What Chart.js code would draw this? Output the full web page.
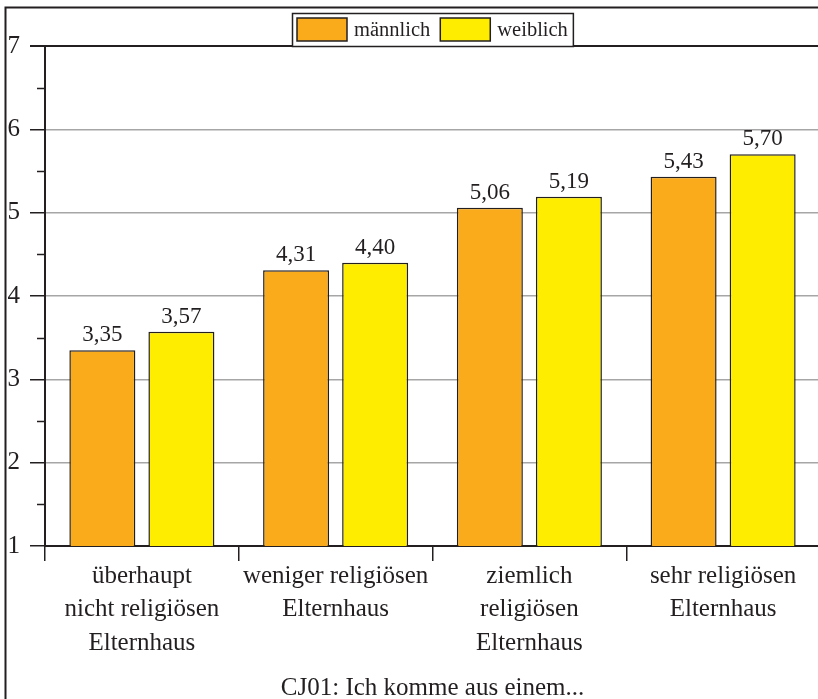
<!DOCTYPE html>
<html>
<head>
<meta charset="utf-8">
<script src="https://cdn.jsdelivr.net/npm/chart.js@4.4.0/dist/chart.umd.min.js"></script>
<style>
  html, body { margin: 0; padding: 0; overflow: hidden; background: #fff; }
  #wrap { width: 821px; height: 712px; }
</style>
</head>
<body>
<div id="wrap"><canvas id="chart" width="821" height="712"></canvas></div>
<script>
// Data
const categories = [
    ['überhaupt', 'nicht religiösen', 'Elternhaus'],
    ['weniger religiösen', 'Elternhaus'],
    ['ziemlich', 'religiösen', 'Elternhaus'],
    ['sehr religiösen', 'Elternhaus']
];
const seriesNames = ['männlich', 'weiblich'];
const maleValues = [3.35, 4.31, 5.06, 5.43];
const femaleValues = [3.57, 4.40, 5.19, 5.70];
const yTicks = [1, 2, 3, 4, 5, 6, 7];
const axisTitle = 'CJ01: Ich komme aus einem...';

const FONT = "'Liberation Serif', 'DejaVu Serif', serif";
const INK = '#231f20';
const colors = ['#f9ab1c', '#ffed00'];

// outer frame (left + top line, picture is cut on the other sides)
const framePlugin = {
    id: 'frame',
    beforeDraw(chart) {
        const c = chart.ctx;
        c.save();
        c.fillStyle = '#fff';
        c.fillRect(0, 0, chart.width, chart.height);
        c.strokeStyle = INK;
        c.lineWidth = 2;
        c.beginPath();
        c.moveTo(5.5, chart.height);
        c.lineTo(5.5, 7.5);
        c.lineTo(chart.width, 7.5);
        c.stroke();
        c.restore();
    }
};

// short ticks halfway between the labelled ones
const minorTicks = {
    id: 'minorTicks',
    afterDraw(chart) {
        const y = chart.scales.y;
        const c = chart.ctx;
        c.save();
        c.strokeStyle = INK;
        c.lineWidth = 1.5;
        for (let i = 0; i < yTicks.length - 1; i++) {
            const py = Math.round(y.getPixelForValue((yTicks[i] + yTicks[i + 1]) / 2)) + 0.5;
            c.beginPath();
            c.moveTo(chart.chartArea.left - 8, py);
            c.lineTo(chart.chartArea.left, py);
            c.stroke();
        }
        c.restore();
    }
};

// value labels above the bars
const valueLabels = {
    id: 'valueLabels',
    afterDatasetsDraw(chart) {
        const c = chart.ctx;
        c.save();
        c.font = '23px ' + FONT;
        c.fillStyle = INK;
        c.textAlign = 'center';
        c.textBaseline = 'alphabetic';
        chart.data.datasets.forEach((ds, di) => {
            chart.getDatasetMeta(di).data.forEach((bar, i) => {
                c.fillText(ds.data[i].toFixed(2).replace('.', ','), bar.x, bar.y - 9);
            });
        });
        c.restore();
    }
};

// boxed legend sitting on top of the plot
const boxLegend = {
    id: 'boxLegend',
    afterDraw(chart) {
        const c = chart.ctx;
        const area = chart.chartArea;
        c.save();
        c.font = '20.5px ' + FONT;
        const sw = 50, sh = 23, gapText = 7, gapItem = 10, pad = 5;
        const widths = chart.data.datasets.map(ds => sw + gapText + c.measureText(ds.label).width);
        const total = widths.reduce((a, b) => a + b, 0) + gapItem * (widths.length - 1) + pad * 2;
        const boxTop = 13, boxBottom = area.top;
        let x = Math.round((area.left + area.right) / 2 - total / 2);
        c.fillStyle = '#fff';
        c.fillRect(x, boxTop, total, boxBottom - boxTop);
        c.strokeStyle = INK;
        c.lineWidth = 1.5;
        c.strokeRect(x + 0.5, boxTop + 0.5, total, boxBottom - boxTop);
        const cy = (boxTop + boxBottom) / 2;
        x += pad;
        chart.data.datasets.forEach((ds, i) => {
            c.fillStyle = ds.backgroundColor;
            c.fillRect(x, cy - sh / 2, sw, sh);
            c.strokeStyle = INK;
            c.strokeRect(x, cy - sh / 2, sw, sh);
            c.fillStyle = INK;
            c.textAlign = 'left';
            c.textBaseline = 'middle';
            c.fillText(ds.label, x + sw + gapText, cy + 1);
            x += widths[i] + gapItem;
        });
        c.restore();
    }
};

const ctx = document.getElementById('chart').getContext('2d');
const chart = new Chart(ctx, {
    type: 'bar',
    data: {
        labels: categories,
        datasets: [
            { label: seriesNames[0], data: maleValues, backgroundColor: colors[0] },
            { label: seriesNames[1], data: femaleValues, backgroundColor: colors[1] }
        ]
    },
    options: {
        responsive: false,
        animation: false,
        devicePixelRatio: 1,
        layout: { padding: { top: 46, left: 0, right: 1, bottom: 0 } },
        datasets: {
            bar: {
                borderColor: INK,
                borderWidth: 1.5,
                categoryPercentage: 0.816,
                barPercentage: 0.835
            }
        },
        scales: {
            x: {
                grid: {
                    offset: true,
                    drawOnChartArea: false,
                    color: INK,
                    lineWidth: 1.5,
                    tickLength: 15
                },
                border: { color: INK, width: 2 },
                ticks: {
                    color: INK,
                    padding: -1,
                    maxRotation: 0,
                    autoSkip: false,
                    font: { family: FONT, size: 25, lineHeight: 1.33 }
                },
                title: {
                    display: true,
                    text: axisTitle,
                    color: INK,
                    font: { family: FONT, size: 25 },
                    padding: { top: 0, bottom: 9 }
                },
                afterFit(scale) { scale.height = 712 - 546; }
            },
            y: {
                min: yTicks[0],
                max: yTicks[yTicks.length - 1],
                afterBuildTicks(scale) { scale.ticks = yTicks.map(v => ({ value: v })); },
                grid: {
                    color: ctx => (ctx.tick && (ctx.tick.value === yTicks[0] || ctx.tick.value === yTicks[yTicks.length - 1])) ? INK : '#a6a6a6',
                    lineWidth: ctx => (ctx.tick && ctx.tick.value === yTicks[yTicks.length - 1]) ? 2 : 1.5,
                    tickColor: INK,
                    tickLength: 15
                },
                border: { color: INK, width: 2 },
                ticks: {
                    color: INK,
                    padding: 10,
                    font: { family: FONT, size: 25 }
                },
                afterFit(scale) { scale.width = 45; }
            }
        },
        plugins: {
            legend: { display: false },
            tooltip: { enabled: false }
        }
    },
    plugins: [framePlugin, minorTicks, valueLabels, boxLegend]
});
</script>
</body>
</html>
